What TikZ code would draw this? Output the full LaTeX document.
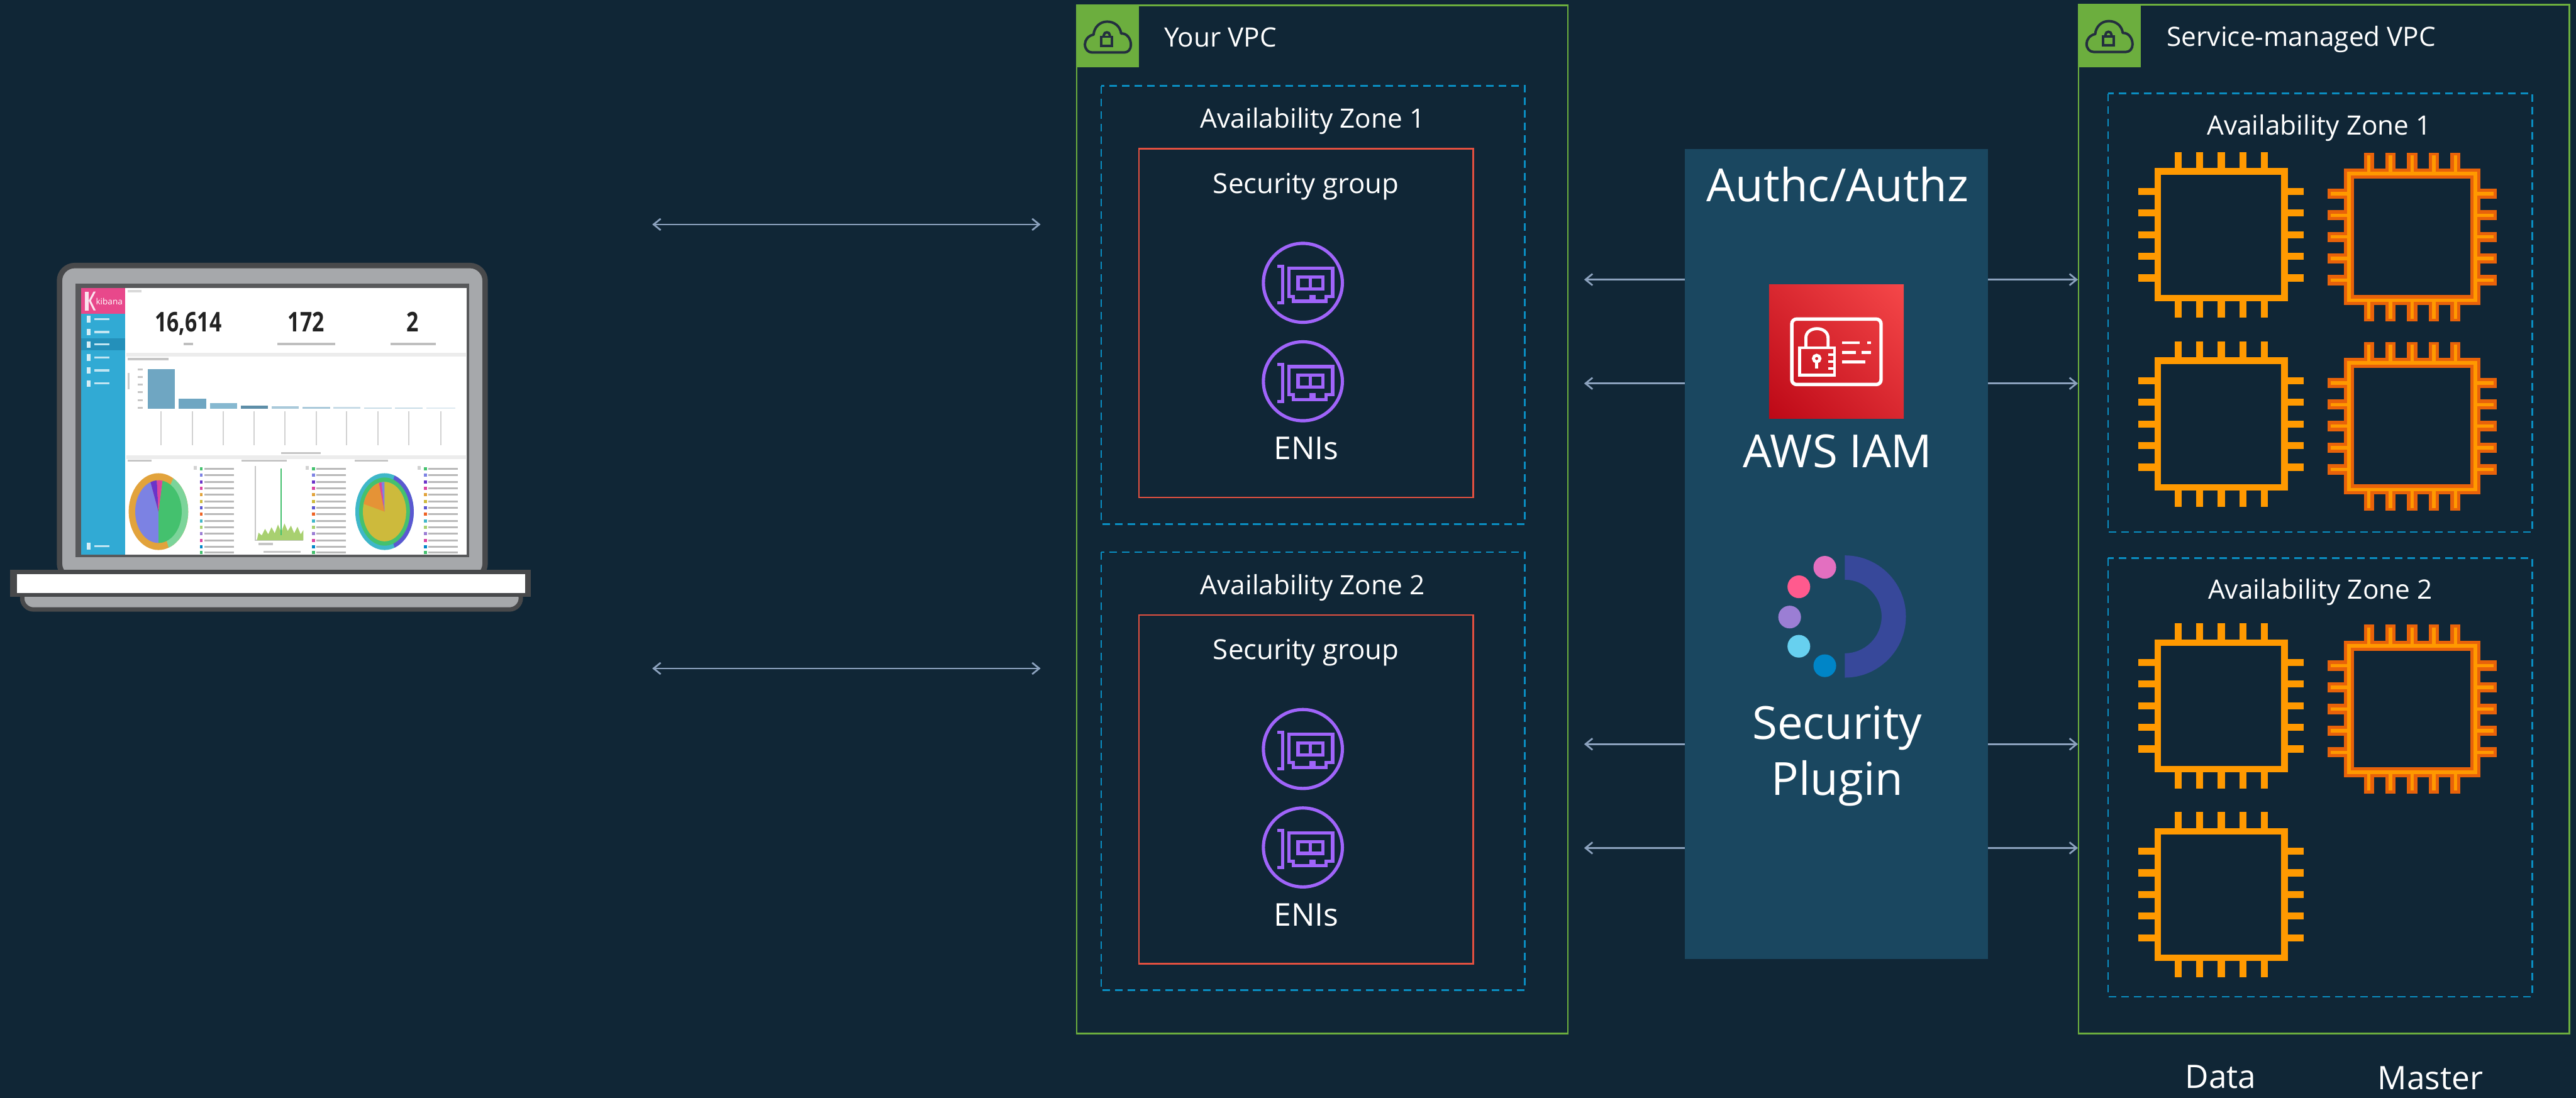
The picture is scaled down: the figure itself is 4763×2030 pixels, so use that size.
\documentclass[tikz,border=0pt]{standalone}
\usepackage{fontspec}
\setmainfont{Open Sans}
\newfontfamily\numfont[FakeStretch=0.78]{Open Sans}
\usetikzlibrary{arrows.meta,shadings}

\definecolor{bgc}{RGB}{16,38,54}
\definecolor{vpcgreen}{RGB}{108,174,62}
\definecolor{cloudc}{RGB}{35,47,62}
\definecolor{azblue}{RGB}{10,142,194}
\definecolor{sgred}{RGB}{226,80,64}
\definecolor{enipurple}{RGB}{160,100,250}
\definecolor{panelc}{RGB}{26,71,96}
\definecolor{arrowc}{RGB}{140,162,190}
\definecolor{chipor}{RGB}{255,153,0}
\definecolor{chipdk}{RGB}{232,98,10}
\definecolor{iamdark}{RGB}{189,8,22}
\definecolor{iammid}{RGB}{217,40,48}
\definecolor{iamlight}{RGB}{245,71,73}
\definecolor{plnavy}{RGB}{55,72,154}
\definecolor{dotA}{RGB}{227,111,192}
\definecolor{dotB}{RGB}{255,90,142}
\definecolor{dotC}{RGB}{155,126,212}
\definecolor{dotD}{RGB}{103,208,239}
\definecolor{dotE}{RGB}{0,133,199}
\definecolor{lapdk}{RGB}{72,73,75}
\definecolor{lapgray}{RGB}{166,168,171}
\definecolor{scrframe}{RGB}{88,89,91}
\definecolor{kcyan}{RGB}{49,170,212}
\definecolor{kcyandk}{RGB}{36,144,186}
\definecolor{kpink}{RGB}{232,72,139}
\definecolor{knum}{RGB}{34,34,34}
\definecolor{kb1}{RGB}{111,166,194}
\definecolor{kb2}{RGB}{134,184,208}
\definecolor{kb3}{RGB}{93,142,168}
\definecolor{kb4}{RGB}{169,201,218}
\definecolor{kb5}{RGB}{200,220,231}
\definecolor{kb6}{RGB}{221,233,240}
\definecolor{pgreen}{RGB}{68,193,110}
\definecolor{pblue}{RGB}{124,130,227}
\definecolor{ppurple}{RGB}{107,51,201}
\definecolor{ppink}{RGB}{217,69,160}
\definecolor{porange}{RGB}{226,163,60}
\definecolor{pyellow}{RGB}{205,186,60}
\definecolor{pteal}{RGB}{63,183,201}
\definecolor{pindigo}{RGB}{91,88,209}
\definecolor{plight}{RGB}{168,208,112}

\newcommand\fsz[1]{\fontsize{#1}{#1}\selectfont}

\tikzset{
  lbl/.style={text=white, inner sep=0pt, anchor=base},
  vpcbox/.style={draw=vpcgreen, line width=0.85pt},
  azbox/.style={draw=azblue, line width=0.85pt, dash pattern=on 4pt off 2.6pt},
  sgbox/.style={draw=sgred, line width=0.85pt},
  conn/.style={draw=arrowc, line width=0.9pt,
    {Straight Barb[length=3.7pt,width=6pt,line width=0.9pt]}-{Straight Barb[length=3.7pt,width=6pt,line width=0.9pt]}},
  cloudlock/.pic={
    \draw[cloudc, line width=1.3pt, line join=round]
      (28,87) -- (88,87) .. controls (95,87) and (100,81) .. (100,73)
      .. controls (100,61) and (92,51) .. (82,52)
      .. controls (80,38) and (69,30) .. (56,30)
      .. controls (42,30) and (32,41) .. (31,54)
      .. controls (21,56) and (15,64) .. (15,72)
      .. controls (15,81) and (21,87) .. (28,87) -- cycle;
    \draw[cloudc, line width=1.3pt] (45,58) rectangle (65,75);
    \draw[cloudc, line width=1.3pt] (50,58) -- (50,55) .. controls (50,48) and (61,48) .. (61,55) -- (61,58);
  },
  eni/.pic={
    \draw[enipurple, line width=1.7pt] (0,0) circle[radius=73];
    \draw[enipurple, line width=1.7pt] (-47,-31) -- (-37,-31) -- (-37,37) -- (-47,37);
    \draw[enipurple, line width=1.7pt, line join=miter]
      (-26,-27) -- (55,-27) -- (55,25) -- (43,25) -- (43,34) -- (21,34) -- (21,25)
      -- (15,25) -- (15,34) -- (-18,34) -- (-18,25) -- (-26,25) -- cycle;
    \draw[enipurple, line width=1.7pt] (-9,-11) rectangle (37,11) (14,-11) -- (14,11);
  },
  datachip/.pic={
    \draw[chipor, line width=3.4pt] (-117,-117) rectangle (117,117);
    \foreach \p in {-80,-40,0,40,80}{
      \draw[chipor, line width=3.7pt] (\p,-117) -- (\p,-153) (\p,117) -- (\p,153)
        (-117,\p) -- (-153,\p) (117,\p) -- (153,\p);
    }
  },
  masterchip/.pic={
    \foreach \c/\w/\t in {chipdk/5.4pt/156, chipor/1.8pt/151}{
      \draw[\c, line width=\w] (-117,-117) rectangle (117,117);
      \foreach \p in {-80,-40,0,40,80}{
        \draw[\c, line width=\w] (\p,-117) -- (\p,-\t) (\p,117) -- (\p,\t)
          (-117,\p) -- (-\t,\p) (117,\p) -- (\t,\p);
      }
    }
  }
}

\begin{document}
\begin{tikzpicture}[x=0.01cm, y=-0.01cm]
\useasboundingbox (0,0) rectangle (4763,2030);
\fill[bgc] (0,0) rectangle (4763,2030);

% ---------- laptop with dashboard ----------
\draw[lapdk, fill=lapgray, line width=2.3pt, rounded corners=6pt] (41,1085) rectangle (963,1127);
\draw[lapdk, fill=lapgray, line width=2.85pt, rounded corners=8pt] (110,491) rectangle (897,1070);
\fill[scrframe] (140,524) rectangle (868,1030);
\fill[white] (150,532) rectangle (863,1026);
\fill[lapdk] (19,1054) rectangle (982,1104);
\fill[white] (31,1062) rectangle (971,1097);

% sidebar
\fill[kcyan] (150,532) rectangle (231,1026);
\fill[kpink] (150,532) rectangle (231,580);
\fill[white!85!kpink] (157,539) rectangle (164,574);
\fill[white!85!kpink] (164,556) -- (173,539) -- (177,539) -- (168,556) -- (177,574) -- (173,574) -- cycle;
\node[text=white, inner sep=0pt, font=\fsz{4.5}] (kname) at (202,557) {kibana};
\fill[kcyandk] (150,626) rectangle (231,648);
\foreach \yy in {590,614,637,661,685,709,1010}{
  \fill[white!80!kcyan] (160,\yy-6) rectangle (167,\yy+6);
  \draw[white!70!kcyan, line width=1.1pt] (175,\yy) -- (202,\yy);
}
% metric row
\fill[gray!30] (236,536) rectangle (262,541);
\node[font=\numfont\bfseries\fsz{14.3}, text=knum, inner sep=0pt, anchor=base] (m1) at (348,613) {16,614};
\node[font=\numfont\bfseries\fsz{14.3}, text=knum, inner sep=0pt, anchor=base] (m2) at (566,613) {172};
\node[font=\numfont\bfseries\fsz{14.3}, text=knum, inner sep=0pt, anchor=base] (m3) at (763,613) {2};
\draw[gray!50, line width=1.1pt] (340,636) -- (357,636) (513,636) -- (620,636) (722,636) -- (806,636);
\draw[gray!15, line width=2pt] (234,656) -- (862,656);
% bar chart
\draw[gray!45, line width=1.1pt] (236,664) -- (312,664);
\foreach \yy in {683,697,711,725,740,754}{ \draw[gray!45, line width=1pt] (255,\yy) -- (264,\yy); }
\draw[gray!40, line width=0.8pt] (238,690) -- (238,720);
\foreach \xa/\xb/\yt/\cc in {273/323/683/kb1, 330/381/737/kb1, 388/438/745/kb2, 445/495/750/kb3,
    502/552/751/kb4, 559/610/752/kb4, 616/666/752/kb5, 673/724/753/kb5, 730/781/753/kb5, 788/842/754/kb6}{
  \fill[\cc] (\xa,\yt) rectangle (\xb,756);
  \draw[gray!35, line width=0.6pt] ({(\xa+\xb)/2},760) -- ({(\xa+\xb)/2},823);
}
\draw[gray!45, line width=1.1pt] (520,838) -- (593,838);
\draw[gray!15, line width=2pt] (234,845) -- (862,845);
\draw[gray!45, line width=1.1pt] (236,852) -- (280,852) (446,852) -- (530,852) (656,852) -- (718,852);
% pie 1
\fill[porange] (293,946) ellipse[x radius=55, y radius=71];
\fill[pgreen!70!white] (293,946) -- ++(-60:55 and 71) arc[start angle=-60, end angle=70, x radius=55, y radius=71] -- cycle;
\fill[pgreen] (293,946) -- ++(-80:43 and 58) arc[start angle=-80, end angle=90, x radius=43, y radius=58] -- cycle;
\fill[pblue] (293,946) -- ++(90:43 and 58) arc[start angle=90, end angle=250, x radius=43, y radius=58] -- cycle;
\fill[ppurple] (293,946) -- ++(250:43 and 58) arc[start angle=250, end angle=266, x radius=43, y radius=58] -- cycle;
\fill[ppink] (293,946) -- ++(266:43 and 58) arc[start angle=266, end angle=280, x radius=43, y radius=58] -- cycle;
% pie 3
\fill[pteal] (711,946) ellipse[x radius=54, y radius=71];
\fill[pindigo] (711,946) -- ++(-70:54 and 71) arc[start angle=-70, end angle=70, x radius=54, y radius=71] -- cycle;
\fill[pgreen] (711,946) ellipse[x radius=47, y radius=63];
\fill[pyellow] (711,946) ellipse[x radius=40, y radius=55];
\fill[porange!90!red] (711,946) -- ++(195:40 and 55) arc[start angle=195, end angle=255, x radius=40, y radius=55] -- cycle;
\fill[ppink] (711,946) -- ++(255:40 and 55) arc[start angle=255, end angle=262, x radius=40, y radius=55] -- cycle;
\fill[pblue] (711,946) -- ++(262:40 and 55) arc[start angle=262, end angle=270, x radius=40, y radius=55] -- cycle;
% middle time chart
\draw[gray!45, line width=0.6pt] (472,862) -- (472,999) -- (561,999);
\fill[plight] (475,999) -- (478,985) -- (484,990) -- (490,978) -- (496,988) -- (502,975) -- (508,986)
  -- (514,970) -- (520,984) -- (526,968) -- (532,982) -- (538,972) -- (544,986) -- (550,974)
  -- (556,988) -- (561,980) -- (561,999) -- cycle;
\draw[pgreen, line width=0.5pt] (520,866) -- (520,990);
\draw[gray!45, line width=1.1pt] (478,1006) -- (505,1006) (487,1020) -- (556,1020);
% legends
\foreach \xl in {370,577,784}{
  \fill[gray!35] (\xl-12,862) rectangle (\xl-6,869);
  \foreach \yy/\cc in {867/pgreen, 879/pblue, 891/ppurple, 903/ppink, 915/porange, 927/pyellow,
     939/pindigo, 951/porange!60!red, 963/pteal, 975/plight, 987/dotC, 999/ppink, 1011/dotE, 1022/pgreen}{
    \fill[\cc] (\xl,\yy-3) rectangle (\xl+5,\yy+3);
    \draw[gray!55, line width=1pt] (\xl+8,\yy) -- (\xl+62,\yy);
  }
}

% ---------- client connections ----------
\coordinate (c1a) at (1206,415);
\coordinate (c1b) at (1924,415);
\coordinate (c2a) at (1206,1236);
\coordinate (c2b) at (1924,1236);
\draw[conn] (c1a) -- (c1b);
\draw[conn] (c2a) -- (c2b);

% ---------- your VPC ----------
\draw[vpcbox] (1991,10) rectangle (2899,1911);
\fill[vpcgreen] (1991,10) rectangle (2106,125);
\pic at (1991,10) {cloudlock};
\node[lbl, anchor=base west, font=\fsz{14}] (yvpc) at (2152,87) {Your VPC};

\draw[azbox] (2036,159) rectangle (2819,969);
\node[lbl, font=\fsz{14}] (yaz1) at (2427,237) {Availability Zone 1};
\draw[sgbox] (2106,275) rectangle (2724,920);
\node[lbl, font=\fsz{14.5}] (sg1) at (2415,357) {Security group};
\pic at (2409,523) {eni};
\pic at (2409,705) {eni};
\node[lbl, font=\fsz{16.5}] (eni1) at (2415,850) {ENIs};

\draw[azbox] (2036,1021) rectangle (2819,1831);
\node[lbl, font=\fsz{14}] (yaz2) at (2427,1099) {Availability Zone 2};
\draw[sgbox] (2106,1137) rectangle (2724,1782);
\node[lbl, font=\fsz{14.5}] (sg2) at (2415,1219) {Security group};
\pic at (2409,1385) {eni};
\pic at (2409,1567) {eni};
\node[lbl, font=\fsz{16.5}] (eni2) at (2415,1712) {ENIs};

% ---------- authentication / authorization ----------
\foreach \yy [count=\i] in {517,709,1376,1568}{
  \coordinate (mL\i) at (2929,\yy);
  \coordinate (mR\i) at (3842,\yy);
  \draw[conn] (mL\i) -- (mR\i);
}
\fill[panelc] (3115,276) rectangle (3676,1773);
\node[lbl, font=\fsz{24}] (authz) at (3398,373) {Authc/Authz};

% IAM icon
\shade[lower left=iamdark, upper right=iamlight, upper left=iammid, lower right=iammid] (3271,526) rectangle (3520,774);
\draw[white, line width=1.8pt, rounded corners=2.5pt] (3313,590) rectangle (3478,711);
\draw[white, line width=1.6pt] (3327,643) rectangle (3392,694);
\draw[white, line width=1.6pt] (3339,643) -- (3339,625) .. controls (3339,602) and (3380,602) .. (3380,625) -- (3380,643);
\draw[white, line width=1.6pt] (3359,663) circle[radius=6];
\draw[white, line width=1.6pt] (3359,669) -- (3359,681);
\draw[white, line width=1.4pt] (3380,656) -- (3392,656) (3380,669) -- (3392,669) (3380,681) -- (3392,681);
\draw[white, line width=1.5pt] (3406,634) -- (3439,634) (3452,634) -- (3459,634)
  (3406,652) -- (3432,652) (3442,652) -- (3459,652) (3406,669) -- (3449,669);
\node[lbl, font=\fsz{24}] (iam) at (3398,865) {AWS IAM};

% security plugin logo
\fill[plnavy] (3411,1027) arc[start angle=-90, end angle=90, radius=113]
  -- (3411,1208) arc[start angle=90, end angle=-90, radius=68] -- cycle;
\fill[dotA] (3374,1049) circle[radius=21];
\fill[dotB] (3326,1085) circle[radius=21];
\fill[dotC] (3309,1141) circle[radius=21];
\fill[dotD] (3326,1195) circle[radius=21];
\fill[dotE] (3374,1231) circle[radius=21];
\node[lbl, font=\fsz{24}] (sec) at (3397,1367) {Security};
\node[lbl, font=\fsz{24}] (plug) at (3397,1470) {Plugin};

% ---------- service-managed VPC ----------
\draw[vpcbox] (3843,9) rectangle (4751,1911);
\fill[vpcgreen] (3843,9) rectangle (3958,124);
\pic at (3843,9) {cloudlock};
\node[lbl, anchor=base west, font=\fsz{14}] (svpc) at (4006,86) {Service-managed VPC};

\draw[azbox] (3898,173) rectangle (4682,984);
\node[lbl, font=\fsz{14}] (saz1) at (4288,250) {Availability Zone 1};
\pic at (4107,434) {datachip};
\pic at (4107,784) {datachip};
\pic at (4460,438) {masterchip};
\pic at (4460,788) {masterchip};

\draw[azbox] (3898,1032) rectangle (4682,1843);
\node[lbl, font=\fsz{14}] (saz2) at (4290,1108) {Availability Zone 2};
\pic at (4107,1305) {datachip};
\pic at (4460,1311) {masterchip};
\pic at (4107,1654) {datachip};

\node[lbl, font=\fsz{17}] (data) at (4106,2012) {Data};
\node[lbl, font=\fsz{17}] (master) at (4494,2015) {Master};
\end{tikzpicture}
\end{document}
